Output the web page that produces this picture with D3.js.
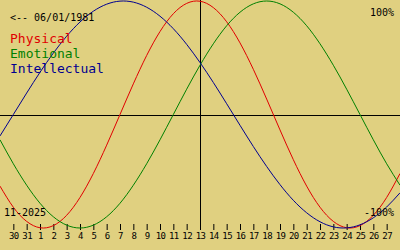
<!DOCTYPE html>
<html><head><meta charset="utf-8">
<script src="https://cdn.jsdelivr.net/npm/d3@7"></script>
<style>html,body{margin:0;padding:0;background:#e0d080;}svg{display:block;}</style>
</head><body>
<script>
// Day index 0 = Oct 29, 2025 ... 30 = Nov 28, 2025
const dayIndex = d3.range(0, 31);
const tickLabels = ["30","31","1","2","3","4","5","6","7","8","9","10","11","12","13","14","15","16","17","18","19","20","21","22","23","24","25","26","27"];
const physical = [-0.631,-0.817,-0.942,-0.998,-0.979,-0.888,-0.731,-0.520,-0.270,0,0.270,0.520,0.731,0.888,0.979,0.998,0.942,0.817,0.631,0.398,0.136,-0.136,-0.398,-0.631,-0.817,-0.942,-0.998,-0.979,-0.888,-0.731,-0.520];
const emotional = [-0.223,-0.434,-0.623,-0.782,-0.901,-0.975,-1,-0.975,-0.901,-0.782,-0.623,-0.434,-0.223,0,0.223,0.434,0.623,0.782,0.901,0.975,1,0.975,0.901,0.782,0.623,0.434,0.223,0,-0.223,-0.434,-0.623];
const intellectual = [-0.189,0,0.189,0.372,0.541,0.690,0.815,0.910,0.972,0.999,0.990,0.945,0.866,0.756,0.618,0.458,0.282,0.095,-0.095,-0.282,-0.458,-0.618,-0.756,-0.866,-0.945,-0.990,-0.999,-0.972,-0.910,-0.815,-0.690];
const seriesNames = ["Physical","Emotional","Intellectual"];
const seriesColors = ["#e00000","#008000","#000090"];
const todayIndex = 15;

const W = 400, H = 250;
const svg = d3.select("body").append("svg").attr("width", W).attr("height", H);
svg.append("rect").attr("width", W).attr("height", H).attr("fill", "#e0d080");

const x = d3.scaleLinear().domain([0, 30]).range([0, 400]);
const y = d3.scaleLinear().domain([-1, 1]).range([228, 1]);

// zero line and today line
svg.append("line").attr("x1", 0).attr("x2", W).attr("y1", 115.5).attr("y2", 115.5)
  .attr("stroke", "#000").attr("stroke-width", 1);
svg.append("line").attr("x1", Math.round(x(todayIndex)) + 0.5).attr("x2", Math.round(x(todayIndex)) + 0.5).attr("y1", 0).attr("y2", 230)
  .attr("stroke", "#000").attr("stroke-width", 1);

// axis ticks
const axis = d3.axisBottom(x).tickValues(d3.range(1, 30)).tickSize(6).tickPadding(3)
  .tickFormat((d, i) => tickLabels[i]);
const ag = svg.append("g").attr("transform", "translate(0,224)").call(axis);
ag.select(".domain").remove();
ag.selectAll(".tick line").attr("stroke", "#000");
ag.selectAll(".tick text").attr("fill", "#000").attr("font-family", "DejaVu Sans Mono")
  .attr("font-size", 9).attr("letter-spacing", -0.6);

// curves
const line = d3.line().x((d, i) => x(dayIndex[i])).y(d => y(d)).curve(d3.curveNatural);
[physical, emotional, intellectual].forEach((s, k) => {
  svg.append("path").attr("d", line(s)).attr("fill", "none").attr("stroke", seriesColors[k]).attr("stroke-width", 1);
});

// texts
const mono = "DejaVu Sans Mono";
svg.append("text").attr("x", 10).attr("y", 21).attr("font-family", mono).attr("font-size", 10).attr("fill", "#000").text("<-- 06/01/1981");
seriesNames.forEach((n, k) => {
  svg.append("text").attr("x", 10).attr("y", 43 + k * 15).attr("font-family", mono).attr("font-size", 13)
    .attr("fill", seriesColors[k]).text(n);
});
svg.append("text").attr("x", 394).attr("y", 16).attr("text-anchor", "end").attr("font-family", mono).attr("font-size", 10).attr("fill", "#000").text("100%");
svg.append("text").attr("x", 394).attr("y", 216).attr("text-anchor", "end").attr("font-family", mono).attr("font-size", 10).attr("fill", "#000").text("-100%");
svg.append("text").attr("x", 4).attr("y", 216).attr("font-family", mono).attr("font-size", 10).attr("fill", "#000").text("11-2025");
</script>
</body></html>
